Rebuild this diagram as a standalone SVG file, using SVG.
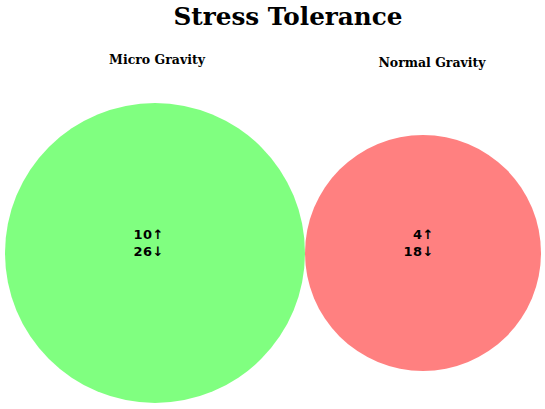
<svg xmlns="http://www.w3.org/2000/svg" width="545" height="409" viewBox="0 0 545 409">
<style>
.title{font-family:"DejaVu Serif",serif;font-weight:bold;font-size:24.7px;text-anchor:middle}
.lab{font-family:"DejaVu Serif",serif;font-weight:bold;font-size:12.5px;text-anchor:middle}
.num{font-family:"DejaVu Sans",sans-serif;font-weight:bold;font-size:13px;text-anchor:end;letter-spacing:0.5px}
</style>
<rect width="545" height="409" fill="#ffffff"/>
<text class="title" x="288" y="25">Stress Tolerance</text>
<g id="micro">
<circle cx="155" cy="253" r="150" fill="#80ff80"/>
<text class="lab" x="157" y="64">Micro Gravity</text>
<text class="num" x="164" y="239">10↑</text>
<text class="num" x="164" y="256">26↓</text>
</g>
<g id="normal">
<circle cx="423" cy="253" r="118" fill="#ff8080"/>
<text class="lab" x="432" y="67">Normal Gravity</text>
<text class="num" x="434" y="239">4↑</text>
<text class="num" x="434" y="256">18↓</text>
</g>
<g id="connectors"/>
</svg>
